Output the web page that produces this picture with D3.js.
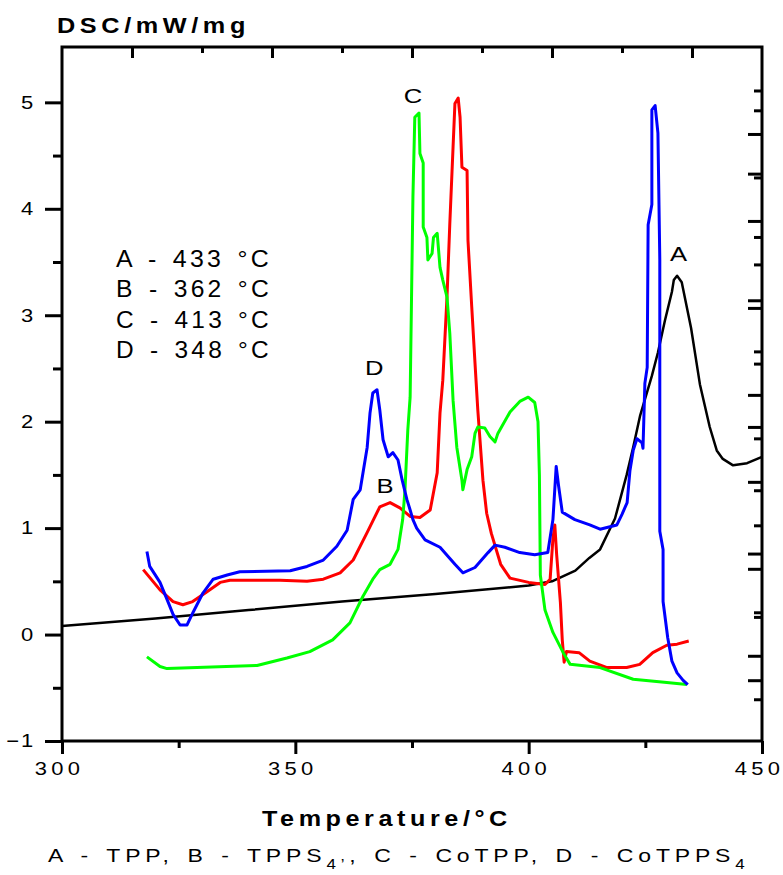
<!DOCTYPE html>
<html>
<head>
<meta charset="utf-8">
<script src="https://cdn.jsdelivr.net/npm/d3@7"></script>
<style>
  body { margin: 0; background: #fff; }
  text { font-family: "Liberation Sans", Arial, sans-serif; fill: #000; }
</style>
</head>
<body>
<div id="chart"></div>
<script>
// series: [temperature °C, DSC mW/mg]
const tpp = [[300,0.08],[320,0.15],[340,0.23],[360,0.31],[380,0.38],[400,0.46],[405,0.5],[410,0.6],[413,0.72],[415.3,0.8],[418.5,1.09],[421,1.5],[422.4,1.76],[423.9,2.06],[426.4,2.43],[427.7,2.65],[429.2,2.95],[430.7,3.22],[431.1,3.33],[431.8,3.37],[432.8,3.31],[434.8,2.88],[436.7,2.35],[438.8,1.95],[440.3,1.73],[441.6,1.65],[443.8,1.59],[446.8,1.61],[450,1.67]]
const tpps4 = [[317.4,0.61],[321,0.42],[323.8,0.31],[325.9,0.28],[328,0.31],[331,0.4],[333.9,0.49],[336,0.51],[346.7,0.51],[352.5,0.5],[356,0.52],[359.6,0.58],[362.4,0.7],[365.4,0.96],[368.1,1.2],[370.3,1.24],[372.4,1.19],[374.6,1.11],[376.7,1.1],[378.9,1.17],[380.4,1.52],[381,2.08],[381.6,2.39],[382.5,3.17],[383.1,3.86],[383.8,4.58],[384.2,4.99],[384.9,5.04],[385.3,4.86],[385.7,4.39],[386.8,4.36],[387,3.7],[387.8,3.08],[388.5,2.55],[389.1,2.11],[390.2,1.45],[391,1.14],[392,0.95],[394,0.66],[396,0.53],[400,0.49],[403.5,0.47],[404.6,0.52],[405.2,0.9],[405.6,1.03],[406,0.75],[406.8,0.3],[407.2,-0.05],[407.6,-0.26],[408.1,-0.16],[410.8,-0.17],[413.1,-0.25],[416.8,-0.31],[421,-0.31],[423.8,-0.28],[426.6,-0.17],[429.6,-0.1],[431.8,-0.09],[434.3,-0.06]]
const cotpp = [[318.2,-0.21],[321,-0.3],[322.5,-0.32],[328.9,-0.31],[341.8,-0.29],[348.2,-0.22],[353.1,-0.16],[358,-0.05],[361.7,0.11],[364.5,0.36],[366.6,0.52],[368.1,0.61],[370.3,0.66],[372,0.8],[373,1.08],[373.5,1.36],[374.1,1.92],[374.6,2.23],[375.2,4.11],[375.6,4.86],[376.5,4.9],[376.7,4.52],[377.4,4.43],[377.4,3.83],[378.2,3.73],[378.4,3.52],[379.3,3.58],[379.6,3.73],[380.4,3.77],[381,3.45],[381.6,3.33],[382.5,3.17],[383.1,2.83],[383.8,2.2],[384.6,1.76],[385.7,1.45],[385.9,1.36],[386.8,1.55],[387.8,1.67],[388.5,1.89],[389.1,1.95],[390.6,1.94],[391.7,1.86],[392.8,1.81],[393.4,1.89],[396,2.09],[398.1,2.19],[399.9,2.23],[401.3,2.18],[402,2.0],[402.3,1.5],[402.5,0.56],[403.5,0.23],[405.2,0.02],[407.4,-0.17],[408.9,-0.28],[415.3,-0.31],[422.4,-0.42],[429.6,-0.45],[433.9,-0.47]]
const cotpps4 = [[318.2,0.78],[318.8,0.64],[321,0.49],[322.5,0.33],[323.8,0.19],[325.3,0.09],[326.8,0.09],[328.1,0.21],[330.2,0.39],[332.4,0.52],[335.4,0.56],[338.1,0.59],[348.9,0.6],[352.5,0.64],[356,0.7],[358.9,0.83],[361.1,0.98],[362.4,1.27],[363.9,1.36],[365.4,1.76],[366,2.08],[366.6,2.27],[367.5,2.3],[368.1,2.11],[368.8,1.83],[369.9,1.67],[370.9,1.71],[372,1.64],[372.9,1.45],[373.9,1.27],[374.6,1.17],[375.2,1.08],[376,1.0],[377.8,0.89],[381,0.82],[384.2,0.66],[385.9,0.58],[388.5,0.63],[391.3,0.77],[392.8,0.84],[394.9,0.82],[398.1,0.77],[401.3,0.75],[404.1,0.77],[405.2,1.08],[405.9,1.58],[406.4,1.4],[407.2,1.15],[409.9,1.08],[413.1,1.03],[415.3,0.99],[418.9,1.03],[420,1.13],[421.1,1.24],[421.7,1.54],[422.4,1.73],[423.2,1.84],[424.3,1.8],[424.5,1.75],[424.9,2.36],[425.4,2.51],[425.6,3.85],[426.4,4.04],[426.4,4.93],[427.1,4.97],[427.7,4.71],[428.1,3.52],[428.1,0.97],[428.8,0.8],[428.8,0.31],[429.8,-0.03],[430.7,-0.25],[431.8,-0.36],[433.1,-0.43],[434.1,-0.47]]

const xDomain = [300, 450]
const yDomain = [-1, 5.52]
const xMajor = [300, 350, 400, 450]
const xMinor = [325, 375, 425]
const yMajor = [-1, 0, 1, 2, 3, 4, 5]
const yMinor = [-0.5, 0.5, 1.5, 2.5, 3.5, 4.5]
const topMajor = [315, 345, 375, 405, 435]
const topMinor = [330, 360, 390, 420]
// two unlabeled right-hand axes (overlapping in the original)
const r1Domain = [-0.98, 7]
const r1Major = [0, 1, 2, 3, 4, 5, 6]
const r1Minor = [-0.5, 0.5, 1.5, 2.5, 3.5, 4.5, 5.5, 6.5]
const r2Domain = [-0.48, 5]
const r2Major = [0, 1, 2, 3, 4]
const r2Minor = [0.5, 1.5, 2.5, 3.5, 4.5]

const peakLabels = [['A', 432.1, 3.51], ['B', 369.2, 1.33], ['C', 375.2, 4.99], ['D', 366.9, 2.44]]
const legendLines = ['A - 433 °C', 'B - 362 °C', 'C - 413 °C', 'D - 348 °C']

const width = 783, height = 875
const plotL = 62, plotR = 762, plotT = 47, plotB = 741
const stretch = 1.22   // the original lettering is drawn wide

const svg = d3.select('#chart').append('svg')
  .attr('width', width)
  .attr('height', height)

const x = d3.scaleLinear().domain(xDomain).range([plotL, plotR])
const y = d3.scaleLinear().domain(yDomain).range([plotB, plotT])
const r1 = d3.scaleLinear().domain(r1Domain).range([plotB, plotT])
const r2 = d3.scaleLinear().domain(r2Domain).range([plotB, plotT])

// squeeze/stretch a text horizontally so it spans [x0, x0 + w]
const fit = (sel, x0, w) => {
  const b = sel.node().getBBox()
  sel.attr('transform', `translate(${x0},0) scale(${w / b.width},1) translate(${-b.x},0)`)
}

const axisStyle = g => {
  g.select('.domain').remove()
  g.selectAll('line').attr('stroke', '#000').attr('stroke-width', 3)
  g.selectAll('text').attr('font-size', 18).attr('fill', '#000')
}

// bottom axis
svg.append('g').attr('transform', `translate(0,${plotB})`)
  .call(d3.axisBottom(x).tickValues(xMinor).tickSize(7).tickFormat(''))
  .call(axisStyle)
svg.append('g').attr('transform', `translate(0,${plotB})`)
  .call(d3.axisBottom(x).tickValues(xMajor).tickSize(13).tickFormat(d3.format('d')))
  .call(axisStyle)
  .selectAll('text')
    .attr('y', 34).attr('dy', 0)
    .attr('letter-spacing', 3.5)
    .attr('transform', `translate(-3,0) scale(${stretch},1)`)

// left axis
svg.append('g').attr('transform', `translate(${plotL},0)`)
  .call(d3.axisLeft(y).tickValues(yMinor).tickSize(9).tickFormat(''))
  .call(axisStyle)
svg.append('g').attr('transform', `translate(${plotL},0)`)
  .call(d3.axisLeft(y).tickValues(yMajor).tickSize(17).tickFormat(d3.format('d')))
  .call(axisStyle)
  .selectAll('text')
    .attr('x', 0)
    .attr('letter-spacing', 1.5)
    .attr('transform', `translate(-27,0) scale(${stretch},1)`)

// top axis, ticks inward
svg.append('g').attr('transform', `translate(0,${plotT})`)
  .call(d3.axisTop(x).tickValues(topMinor).tickSize(-6).tickFormat(''))
  .call(axisStyle)
svg.append('g').attr('transform', `translate(0,${plotT})`)
  .call(d3.axisTop(x).tickValues(topMajor).tickSize(-11).tickFormat(''))
  .call(axisStyle)

// right axes, ticks inward
const rightAxis = (scale, values, size) => {
  svg.append('g').attr('transform', `translate(${plotR},0)`)
    .call(d3.axisRight(scale).tickValues(values).tickSize(-size).tickFormat(''))
    .call(axisStyle)
}
rightAxis(r1, r1Minor, 8)
rightAxis(r1, r1Major, 14)
rightAxis(r2, r2Minor, 8)
rightAxis(r2, r2Major, 14)

// frame
svg.append('rect')
  .attr('x', plotL).attr('y', plotT)
  .attr('width', plotR - plotL).attr('height', plotB - plotT)
  .attr('fill', 'none').attr('stroke', '#000').attr('stroke-width', 3)

// curves
const line = d3.line().x(d => x(d[0])).y(d => y(d[1]))
const series = [
  { data: tpp, color: '#000000', w: 2.5 },
  { data: tpps4, color: '#ff0000', w: 3 },
  { data: cotpp, color: '#00ff00', w: 3 },
  { data: cotpps4, color: '#0000ff', w: 3 }
]
svg.append('g').selectAll('path')
  .data(series)
  .join('path')
    .attr('d', d => line(d.data))
    .attr('fill', 'none')
    .attr('stroke', d => d.color)
    .attr('stroke-width', d => d.w)
    .attr('stroke-linejoin', 'round')

// peak letters
svg.append('g').selectAll('text')
  .data(peakLabels)
  .join('text')
    .attr('x', 0)
    .attr('y', d => y(d[2]))
    .attr('text-anchor', 'middle')
    .attr('font-size', 21)
    .attr('transform', d => `translate(${x(d[1])},0) scale(${stretch},1)`)
    .text(d => d[0])

// legend block
const legend = svg.append('g').selectAll('text')
  .data(legendLines)
  .join('text')
    .attr('y', (d, i) => 267 + i * 30.5)
    .attr('font-size', 23)
    .attr('letter-spacing', 3)
    .attr('word-spacing', 3)
    .text(d => d)
legend.each(function () { fit(d3.select(this), 116, 156) })

// titles
const yTitle = svg.append('text')
  .attr('y', 33)
  .attr('font-size', 22).attr('font-weight', 'bold')
  .attr('letter-spacing', 4)
  .text('DSC/mW/mg')
fit(yTitle, 57, 193)

const xTitle = svg.append('text')
  .attr('y', 826)
  .attr('font-size', 22).attr('font-weight', 'bold')
  .attr('letter-spacing', 4)
  .text('Temperature/°C')
fit(xTitle, 262, 250)

const caption = svg.append('text')
  .attr('y', 862)
  .attr('font-size', 19)
  .attr('letter-spacing', 4)
  .attr('word-spacing', 2)
caption.append('tspan').text('A - TPP, B - TPPS')
caption.append('tspan').attr('font-size', 14).attr('dy', 7).text('4’')
caption.append('tspan').attr('dy', -7).text(', C - CoTPP, D - CoTPPS')
caption.append('tspan').attr('font-size', 14).attr('dy', 7).text('4')
fit(caption, 48, 702)
</script>
</body>
</html>
